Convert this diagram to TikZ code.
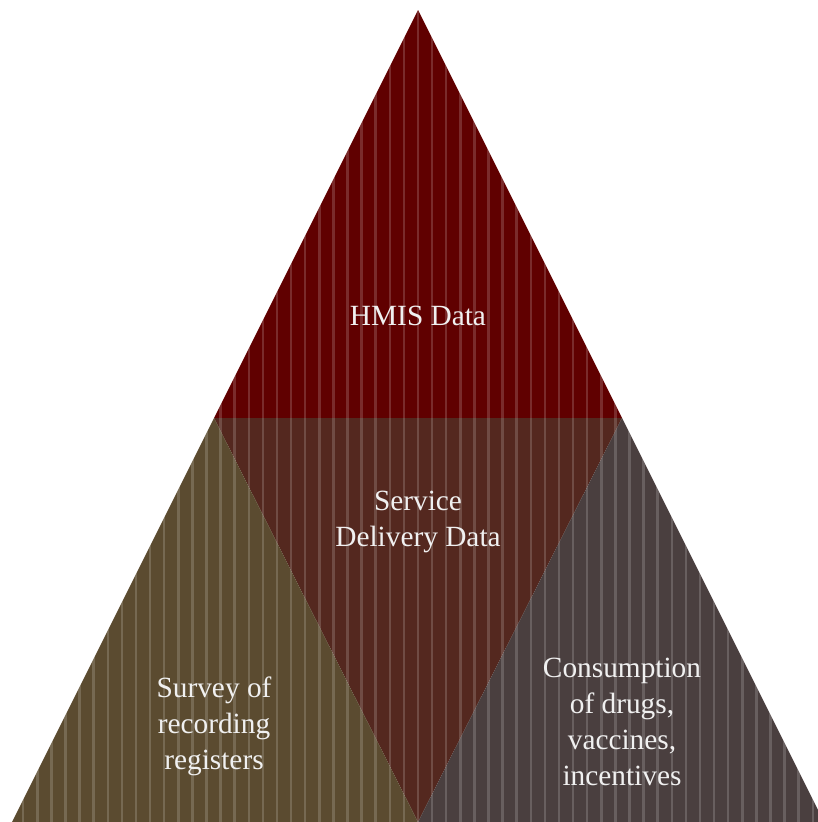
\documentclass[tikz,border=0pt]{standalone}
\usepackage{fontspec}
\setmainfont{Liberation Serif}
\usepackage{xcolor}

\definecolor{hmisred}{RGB}{96,0,0}
\definecolor{servbrown}{RGB}{84,40,31}
\definecolor{surveyolive}{RGB}{91,75,48}
\definecolor{consgrey}{RGB}{74,63,63}

\begin{document}
\begin{tikzpicture}[x=0.75pt,y=0.75pt,yscale=-1,xscale=1,
  lbl/.style={anchor=center,inner sep=0.75pt,align=center,text=white!94!black,font=\fontsize{22}{27}\selectfont},
  stripe/.style={white,opacity=0.17}]
\useasboundingbox (0,0) rectangle (818,822);

%Shape: Triangle [top]
\fill [hmisred] (418,10) -- (622,418) -- (214,418) -- cycle ;
%Shape: Triangle [middle, upside down]
\fill [servbrown] (214,418) -- (622,418) -- (418,822) -- cycle ;
%Shape: Triangle [left]
\fill [surveyolive] (214,418) -- (418,822) -- (12,822) -- cycle ;
%Shape: Triangle [right]
\fill [consgrey] (622,418) -- (824,822) -- (418,822) -- cycle ;

%Stripes
\begin{scope}
\clip (418,10) -- (824,822) -- (12,822) -- cycle ;
\foreach \k in {-29,...,29}
  \fill [stripe] ({418+14.1*\k-1.25},0) rectangle ({418+14.1*\k+1.25},822) ;
\end{scope}

% Text Node
\node [lbl] (hmis) at (418,316) {HMIS Data};
% Text Node
\node [lbl] (service) at (418,522) {Service\\Delivery Data};
% Text Node
\node [lbl] (survey) at (214,726) {Survey of\\recording\\registers};
% Text Node
\node [lbl] (consumption) at (622,722) {Consumption\\of drugs,\\vaccines,\\incentives};

\end{tikzpicture}
\end{document}
